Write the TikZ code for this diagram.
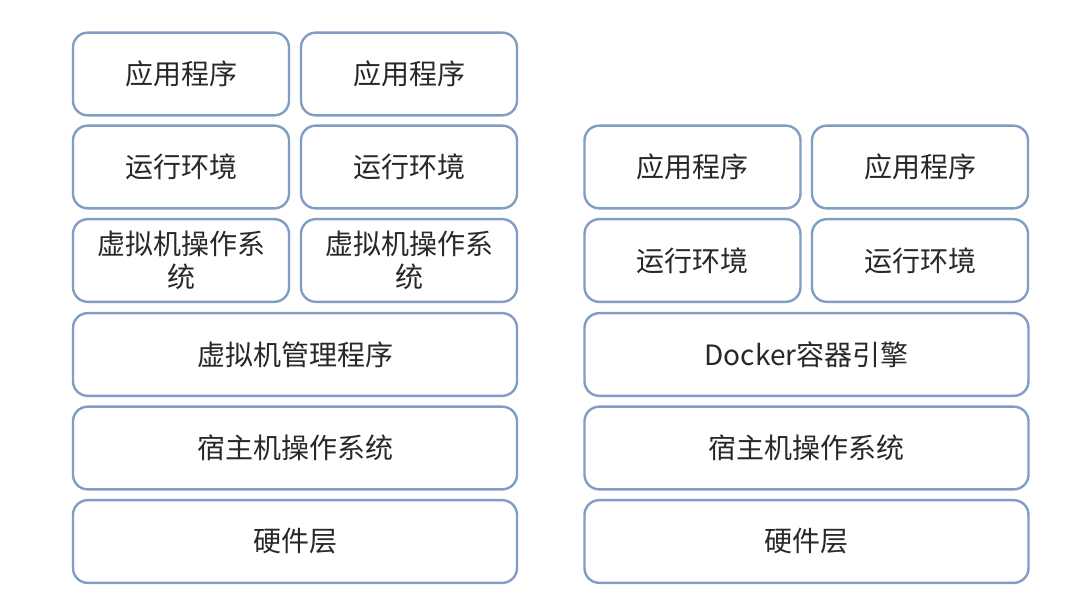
\documentclass[tikz,border=0pt]{standalone}
\usepackage{fontspec}
\newfontfamily\cjk{Noto Sans CJK SC}
\usepackage{tikz}
\definecolor{boxline}{RGB}{128,157,196}
\definecolor{boxtext}{RGB}{40,40,40}
\tikzset{
  layer/.style={draw=boxline, line width=1.8pt, rounded corners=11pt,
    fill=white, text=boxtext, align=center, inner sep=0pt,
    font=\cjk\fontsize{21}{25}\selectfont, minimum height=62pt},
  halflayer/.style={layer, minimum width=162pt},
  fulllayer/.style={layer, minimum width=333pt}
}
\begin{document}
\begin{tikzpicture}[x=0.75pt,y=-0.75pt]% one unit = one pixel of the reference
    \useasboundingbox (0,0) rectangle (1067,613);
    % Virtual machine stack
    \node[halflayer] (VmAppA) at (181,74)  {应用程序};
    \node[halflayer] (VmAppB) at (409,74)  {应用程序};
    \node[halflayer] (VmEnvA) at (181,167) {运行环境};
    \node[halflayer] (VmEnvB) at (409,167) {运行环境};
    \node[halflayer] (VmOsA)  at (181,260.5) {虚拟机操作系\\统};
    \node[halflayer] (VmOsB)  at (409,260.5) {虚拟机操作系\\统};
    \node[fulllayer] (VmHyper) at (295,354.5) {虚拟机管理程序};
    \node[fulllayer] (VmHost)  at (295,448)   {宿主机操作系统};
    \node[fulllayer] (VmHard)  at (295,541.5) {硬件层};
    % Docker stack
    \node[halflayer] (DkAppA) at (692.5,167)   {应用程序};
    \node[halflayer] (DkAppB) at (920,167)     {应用程序};
    \node[halflayer] (DkEnvA) at (692.5,260.5) {运行环境};
    \node[halflayer] (DkEnvB) at (920,260.5)   {运行环境};
    \node[fulllayer] (DkEngine) at (806.5,354.5) {Docker容器引擎};
    \node[fulllayer] (DkHost)   at (806.5,448)   {宿主机操作系统};
    \node[fulllayer] (DkHard)   at (806.5,541.5) {硬件层};
\end{tikzpicture}
\end{document}
